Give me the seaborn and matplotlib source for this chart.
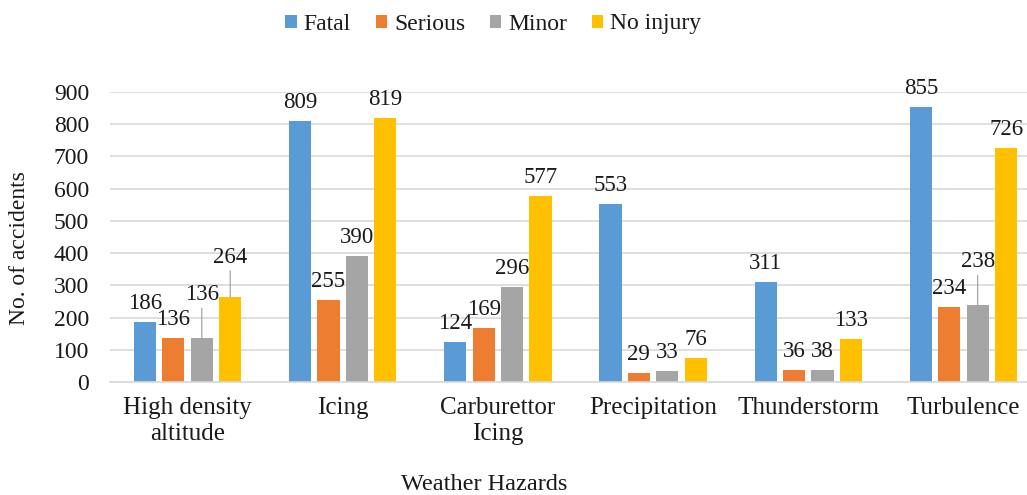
import matplotlib
matplotlib.use("Agg")
import matplotlib.pyplot as plt
import seaborn as sns
import pandas as pd

categories = ["High density\naltitude", "Icing", "Carburettor\nIcing",
              "Precipitation", "Thunderstorm", "Turbulence"]
series = ["Fatal", "Serious", "Minor", "No injury"]
fatal = [186, 809, 124, 553, 311, 855]
serious = [136, 255, 169, 29, 36, 234]
minor = [136, 390, 296, 33, 38, 238]
no_injury = [264, 819, 577, 76, 133, 726]
yticks = [0, 100, 200, 300, 400, 500, 600, 700, 800, 900]
colors = ["#5B9BD5", "#ED7D31", "#A5A5A5", "#FFC000"]

sns.set_theme(style="white")
plt.rcParams["font.family"] = ["Liberation Serif", "DejaVu Serif"]
TXT = "#1a1a1a"

values = [fatal, serious, minor, no_injury]
rows = []
for s, vals in zip(series, values):
    for c, v in zip(categories, vals):
        rows.append({"Hazard": c, "Severity": s, "Accidents": v})
df = pd.DataFrame(rows)

fig = plt.figure(figsize=(10.27, 4.95), dpi=100)
ax = fig.add_axes([110 / 1027, 1 - 382 / 495, (1041 - 110) / 1027, 290 / 495])
sns.barplot(data=df, x="Hazard", y="Accidents", hue="Severity",
            order=categories, hue_order=series, palette=colors,
            width=0.733, gap=0.22, saturation=1, errorbar=None,
            linewidth=0, ax=ax)

ax.set_ylim(0, 900)
ax.set_xlim(-0.5, len(categories) - 0.5)
ax.set_yticks(yticks)
ax.set_yticklabels([str(t) for t in yticks])
ax.yaxis.grid(True, color="#D9D9D9", linewidth=1.2)
ax.set_axisbelow(True)
for side in ["top", "right", "left"]:
    ax.spines[side].set_visible(False)
ax.spines["bottom"].set_color("#D9D9D9")
ax.spines["bottom"].set_linewidth(1.2)
ax.tick_params(axis="y", length=0, pad=15, labelsize=17, labelcolor=TXT)
ax.tick_params(axis="x", length=0, pad=11, labelsize=18, labelcolor=TXT)
for lab in ax.get_xticklabels():
    lab.set_linespacing(1.2)
ax.set_xlabel("")
ax.set_ylabel("")

# data labels (some moved up with leader lines, as in the reference)
moved = {(0, 2): 25, (0, 3): 21, (5, 2): 25}
for si, cont in enumerate(ax.containers):
    for ci, bar in enumerate(cont):
        v = values[si][ci]
        x = bar.get_x() + bar.get_width() / 2
        extra = moved.get((ci, si), 0)
        off = 13 + extra
        ax.annotate(str(v), xy=(x, bar.get_height()), xytext=(0, off),
                    textcoords="offset pixels", ha="center", va="baseline",
                    fontsize=16.5, color=TXT)
        if extra:
            ax.annotate("", xy=(x, bar.get_height()), xytext=(0, off - 8),
                        textcoords="offset pixels",
                        arrowprops=dict(arrowstyle="-", color="#A6A6A6",
                                        linewidth=0.9, shrinkA=0, shrinkB=0))

leg = ax.get_legend()
handles = leg.legend_handles
leg.remove()
fig.legend(handles, series, loc="center", bbox_to_anchor=(493.5 / 1027, 1 - 24 / 495),
           ncol=4, frameon=False, fontsize=17, handlelength=0.47,
           handleheight=0.47, handletextpad=0.3, columnspacing=1.06,
           labelcolor=TXT)

fig.text(20 / 1027, 1 - 248 / 495, "No. of accidents", rotation=90,
         ha="center", va="center", fontsize=17, color=TXT)
fig.text(484 / 1027, 1 - 485 / 495, "Weather Hazards", ha="center",
         va="center", fontsize=17.5, color=TXT)

fig.savefig("out.png", dpi=100)
